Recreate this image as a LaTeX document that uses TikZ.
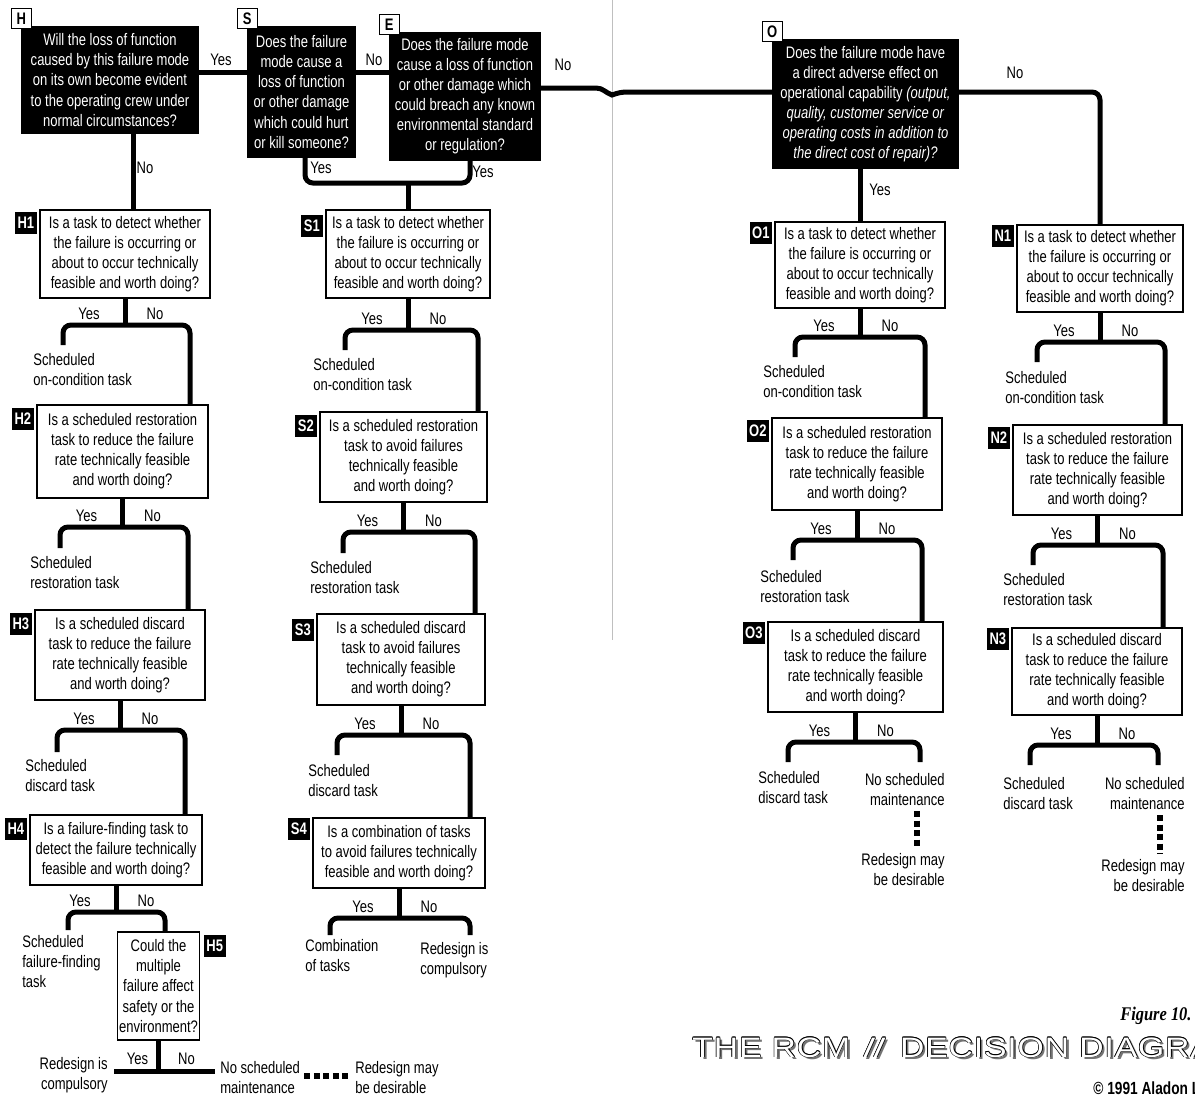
\documentclass[tikz,border=0pt]{standalone}
\usepackage{fontspec}
\setmainfont{Liberation Sans}[FakeStretch=0.78]
\newfontfamily\titlefont{Liberation Sans}[FakeStretch=1.2,LetterSpace=3]
\newfontfamily\figfont{Liberation Serif}[FakeStretch=0.85]
\usetikzlibrary{positioning,calc}
\newcommand\qsize{\fontsize{9.5}{11.4}\selectfont}
\newcommand\rcmtitle{THE RCM {\addfontfeatures{FakeSlant=0.45}II}\hspace{0.35em} DECISION DIAGRAM}
\tikzset{
  % vragen
  qbox/.style={draw=black,fill=white,line width=0.85pt,align=center,
               inner sep=1pt,font=\qsize},
  qdark/.style={qbox,fill=black,text=white},
  tagw/.style={draw=black,fill=white,line width=0.85pt,minimum size=4mm,
               inner sep=0pt,font=\qsize\bfseries},
  tagd/.style={fill=black,text=white,minimum size=4.4mm,inner sep=0pt,
               font=\qsize\bfseries},
  % lijnen
  link/.style={line width=1mm,rounded corners=1.6mm},
  dots/.style={line width=1.2mm,dash pattern=on 1.2mm off 0.7mm},
  gutter/.style={draw=black!25,line width=0.4pt},
  % teksten
  yn/.style={font=\qsize,inner sep=0pt},
  act/.style={font=\qsize,align=left,anchor=north west,inner sep=0pt},
  actr/.style={act,align=right,anchor=north east},
  ttl/.style={font=\titlefont\fontsize{16}{18}\selectfont,inner sep=0pt,anchor=base west},
}

\begin{document}
\begin{tikzpicture}[x=0.2mm,y=-0.2mm]
  \useasboundingbox (0,0) rectangle (1195,1099);
  \draw[gutter] (612,0) -- (612,640);

  % first questions
  \node[qdark,minimum width=35.2mm,minimum height=21.2mm] (H) at (110,80)
    {Will the loss of function\\caused by this failure mode\\on its own become evident\\to the operating crew under\\normal circumstances?};
  \node[qdark,minimum width=21.4mm,minimum height=26mm] (S) at (301.5,92)
    {Does the failure\\mode cause a\\loss of function\\or other damage\\which could hurt\\or kill someone?};
  \node[qdark,minimum width=30mm,minimum height=25.4mm] (E) at (465,96.5)
    {Does the failure mode\\cause a loss of function\\or other damage which\\could breach any known\\environmental standard\\or regulation?};
  \node[qdark,minimum width=37mm,minimum height=25.6mm] (O) at (865.5,104)
    {Does the failure mode have\\a direct adverse effect on\\operational capability \textit{(output,}\\\textit{quality, customer service or}\\\textit{operating costs in addition to}\\\textit{the direct cost of repair)?}};
  \node[tagw] (Ht) at ([shift={(0,-8)}]H.north west) {H};
  \node[tagw] (St) at ([shift={(0,-8)}]S.north west) {S};
  \node[tagw] (Et) at ([shift={(0,-8)}]E.north west) {E};
  \node[tagw] (Ot) at ([shift={(0,-8)}]O.north west) {O};

  % H column
  \node[qbox,minimum width=34mm,minimum height=17.6mm] (H1) at (125,254)
    {Is a task to detect whether\\the failure is occurring or\\about to occur technically\\feasible and worth doing?};
  \node[qbox,minimum width=34.2mm,minimum height=18.6mm] (H2) at (122.5,451.5)
    {Is a scheduled restoration\\task to reduce the failure\\rate technically feasible\\and worth doing?};
  \node[qbox,minimum width=34mm,minimum height=18mm] (H3) at (120,655)
    {Is a scheduled discard\\task to reduce the failure\\rate technically feasible\\and worth doing?};
  \node[qbox,minimum width=34.4mm,minimum height=14mm] (H4) at (116,850)
    {Is a failure-finding task to\\detect the failure technically\\feasible and worth doing?};
  \node[qbox,minimum width=15.4mm,minimum height=21.6mm] (H5) at (158.5,986)
    {Could the\\multiple\\failure affect\\safety or the\\environment?};
  \node[tagd,anchor=north east] (H1t) at ([shift={(-2,2)}]H1.north west) {H1};
  \node[tagd,anchor=north east] (H2t) at ([shift={(-2,3)}]H2.north west) {H2};
  \node[tagd,anchor=north east] (H3t) at ([shift={(-2,3)}]H3.north west) {H3};
  \node[tagd,anchor=north east] (H4t) at ([shift={(-2,3)}]H4.north west) {H4};
  \node[tagd,anchor=north west] (H5t) at ([shift={(3,3)}]H5.north east) {H5};
  \node[act] (h1a) at (33,353) {Scheduled\\on-condition task};
  \node[act] (h2a) at (30,556) {Scheduled\\restoration task};
  \node[act] (h3a) at (25,759) {Scheduled\\discard task};
  \node[act] (h4a) at (22,935) {Scheduled\\failure-finding\\task};
  \node[actr] (h5a) at (108,1057) {Redesign is\\compulsory};
  \node[act] (h5b) at (220,1061) {No scheduled\\maintenance};
  \node[act] (h5c) at (355,1061) {Redesign may\\be desirable};

  % S column
  \node[qbox,minimum width=32.8mm,minimum height=17.6mm] (S1) at (408,254)
    {Is a task to detect whether\\the failure is occurring or\\about to occur technically\\feasible and worth doing?};
  \node[qbox,minimum width=33.4mm,minimum height=18mm] (S2) at (403.5,457)
    {Is a scheduled restoration\\task to avoid failures\\technically feasible\\and worth doing?};
  \node[qbox,minimum width=33.6mm,minimum height=18.2mm] (S3) at (401,659.5)
    {Is a scheduled discard\\task to avoid failures\\technically feasible\\and worth doing?};
  \node[qbox,minimum width=34.4mm,minimum height=14mm] (S4) at (399,853)
    {Is a combination of tasks\\to avoid failures technically\\feasible and worth doing?};
  \node[tagd,anchor=north east] (S1t) at ([shift={(-2,5)}]S1.north west) {S1};
  \node[tagd,anchor=north east] (S2t) at ([shift={(-2,3)}]S2.north west) {S2};
  \node[tagd,anchor=north east] (S3t) at ([shift={(-2,5)}]S3.north west) {S3};
  \node[tagd,anchor=north east] (S4t) at ([shift={(-2,0)}]S4.north west) {S4};
  \node[act] (s1a) at (313,358) {Scheduled\\on-condition task};
  \node[act] (s2a) at (310,561) {Scheduled\\restoration task};
  \node[act] (s3a) at (308,764) {Scheduled\\discard task};
  \node[act] (s4a) at (305,939) {Combination\\of tasks};
  \node[act] (s4b) at (420,942) {Redesign is\\compulsory};

  % O column
  \node[qbox,minimum width=34mm,minimum height=17.2mm] (O1) at (860,265)
    {Is a task to detect whether\\the failure is occurring or\\about to occur technically\\feasible and worth doing?};
  \node[qbox,minimum width=34mm,minimum height=18.4mm] (O2) at (857,464)
    {Is a scheduled restoration\\task to reduce the failure\\rate technically feasible\\and worth doing?};
  \node[qbox,minimum width=35mm,minimum height=18mm] (O3) at (855.5,667)
    {Is a scheduled discard\\task to reduce the failure\\rate technically feasible\\and worth doing?};
  \node[tagd,anchor=north east] (O1t) at ([shift={(-2,0)}]O1.north west) {O1};
  \node[tagd,anchor=north east] (O2t) at ([shift={(-2,2)}]O2.north west) {O2};
  \node[tagd,anchor=north east] (O3t) at ([shift={(-2,0)}]O3.north west) {O3};
  \node[act] (o1a) at (763,365) {Scheduled\\on-condition task};
  \node[act] (o2a) at (760,570) {Scheduled\\restoration task};
  \node[act] (o3a) at (758,771) {Scheduled\\discard task};
  \node[actr] (o3b) at (945,773) {No scheduled\\maintenance};
  \node[actr] (o3c) at (945,853) {Redesign may\\be desirable};

  % N column
  \node[qbox,minimum width=33.2mm,minimum height=17.4mm] (N1) at (1100,268.5)
    {Is a task to detect whether\\the failure is occurring or\\about to occur technically\\feasible and worth doing?};
  \node[qbox,minimum width=33.8mm,minimum height=18mm] (N2) at (1097.5,470)
    {Is a scheduled restoration\\task to reduce the failure\\rate technically feasible\\and worth doing?};
  \node[qbox,minimum width=34mm,minimum height=17.4mm] (N3) at (1097,671.5)
    {Is a scheduled discard\\task to reduce the failure\\rate technically feasible\\and worth doing?};
  \node[tagd,anchor=north east] (N1t) at ([shift={(-2,0)}]N1.north west) {N1};
  \node[tagd,anchor=north east] (N2t) at ([shift={(-2,2)}]N2.north west) {N2};
  \node[tagd,anchor=north east] (N3t) at ([shift={(-2,0)}]N3.north west) {N3};
  \node[act] (n1a) at (1005,371) {Scheduled\\on-condition task};
  \node[act] (n2a) at (1003,573) {Scheduled\\restoration task};
  \node[act] (n3a) at (1003,777) {Scheduled\\discard task};
  \node[actr] (n3b) at (1185,777) {No scheduled\\maintenance};
  \node[actr] (n3c) at (1185,859) {Redesign may\\be desirable};

  % top links
  \draw[link] (H.east |- 0,72) -- (S.west |- 0,72);
  \draw[link] (S.east |- 0,72) -- (E.west |- 0,72);
  \draw[link,rounded corners=0pt] (E.east |- 0,88) -- (596,88) to[out=0,in=160] (612,95)
    to[out=20,in=180] (628,92) -- (O.west |- 0,92);
  \draw[link] (O.east |- 0,92) -| (N1.north);
  \draw[link] (H.south -| 133,0) -- (H1.north -| 133,0);
  \coordinate (sj) at (S1.north |- 0,183);
  \draw[link] (S.south -| 305,0) |- (sj) -| (E.south -| 470,0);
  \draw[link] (sj) -- (S1);
  \draw[link] (O.south -| O1.north) -- (O1);
  \node[yn] (hyes) at (221,60) {Yes};
  \node[yn] (sno) at (374,60) {No};
  \node[yn] (eno) at (563,65) {No};
  \node[yn] (hno) at (145,168) {No};
  \node[yn] (syes) at (321,168) {Yes};
  \node[yn] (eyes) at (483,172) {Yes};
  \node[yn] (oyes) at (880,190) {Yes};
  \node[yn] (ono) at (1015,73) {No};

  % branches H
  \coordinate (h1j) at (H1.south |- 0,325);
  \coordinate (h1y) at (63,345);
  \draw[link] (H1) -- (h1j);
  \draw[link] (h1y) |- (h1j) -| (H2.north -| 190,0);
  \coordinate (h2j) at (H2.south |- 0,527);
  \coordinate (h2y) at (60,548);
  \draw[link] (H2) -- (h2j);
  \draw[link] (h2y) |- (h2j) -| (H3.north -| 188,0);
  \coordinate (h3j) at (H3.south |- 0,730);
  \coordinate (h3y) at (57,752);
  \draw[link] (H3) -- (h3j);
  \draw[link] (h3y) |- (h3j) -| (H4.north -| 185,0);
  \coordinate (h4j) at (H4.south |- 0,912);
  \coordinate (h4y) at (68,930);
  \draw[link] (H4) -- (h4j);
  \draw[link] (h4y) |- (h4j) -| (H5.north -| 165,0);
  \coordinate (h5j) at (H5.south |- 0,1071);
  \draw[link] (H5) -- (h5j);
  \draw[link,shorten <=1.2mm,shorten >=1mm] (h5a.east |- h5j) -- (h5b.west |- h5j);
  \node[yn] (h5yes) at ([shift={(-21,-12)}]h5j) {Yes};
  \node[yn] (h5no) at ([shift={(28,-12)}]h5j) {No};
  \draw[dots,shorten <=0.8mm,shorten >=1.4mm] (h5b.east |- 0,1076) -- (h5c.west |- 0,1076);

  % branches S
  \coordinate (s1j) at (S1.south |- 0,330);
  \coordinate (s1y) at (345,350);
  \draw[link] (S1) -- (s1j);
  \draw[link] (s1y) |- (s1j) -| (S2.north -| 478,0);
  \coordinate (s2j) at (S2.south |- 0,532);
  \coordinate (s2y) at (343,553);
  \draw[link] (S2) -- (s2j);
  \draw[link] (s2y) |- (s2j) -| (S3.north -| 475,0);
  \coordinate (s3j) at (S3.south |- 0,735);
  \coordinate (s3y) at (337,755);
  \draw[link] (S3) -- (s3j);
  \draw[link] (s3y) |- (s3j) -| (S4.north -| 470,0);
  \coordinate (s4j) at (S4.south |- 0,918);
  \coordinate (s4y) at (330,935);
  \coordinate (s4n) at (470,935);
  \draw[link] (S4) -- (s4j);
  \draw[link] (s4y) |- (s4j) -| (s4n);

  % branches O
  \coordinate (o1j) at (O1.south |- 0,337);
  \coordinate (o1y) at (795,357);
  \draw[link] (O1) -- (o1j);
  \draw[link] (o1y) |- (o1j) -| (O2.north -| 925,0);
  \coordinate (o2j) at (O2.south |- 0,540);
  \coordinate (o2y) at (793,560);
  \draw[link] (O2) -- (o2j);
  \draw[link] (o2y) |- (o2j) -| (O3.north -| 922,0);
  \coordinate (o3j) at (O3.south |- 0,742);
  \coordinate (o3y) at (788,762);
  \coordinate (o3n) at (920,762);
  \draw[link] (O3) -- (o3j);
  \draw[link] (o3y) |- (o3j) -| (o3n);
  \draw[dots,shorten <=1mm,shorten >=1mm] (o3b.south -| 917,0) -- (o3c.north -| 917,0);

  % branches N
  \coordinate (n1j) at (N1.south |- 0,342);
  \coordinate (n1y) at (1037,362);
  \draw[link] (N1) -- (n1j);
  \draw[link] (n1y) |- (n1j) -| (N2.north -| 1165,0);
  \coordinate (n2j) at (N2.south |- 0,545);
  \coordinate (n2y) at (1033,565);
  \draw[link] (N2) -- (n2j);
  \draw[link] (n2y) |- (n2j) -| (N3.north -| 1163,0);
  \coordinate (n3j) at (N3.south |- 0,745);
  \coordinate (n3y) at (1030,765);
  \coordinate (n3n) at (1158,765);
  \draw[link] (N3) -- (n3j);
  \draw[link] (n3y) |- (n3j) -| (n3n);
  \draw[dots,shorten <=1mm,shorten >=1mm] (n3b.south -| 1160,0) -- (n3c.north -| 1160,0);

  % Yes/No on every branch
  \foreach \j in {h1j,h2j,h3j,h4j,s1j,s2j,s3j,s4j,o1j,o2j,o3j,n1j,n2j,n3j} {
    \node[yn] (\j-yes) at ([shift={(-36,-11)}]\j) {Yes};
    \node[yn] (\j-no) at ([shift={(30,-11)}]\j) {No};
  }

  % title
  \node[anchor=base west,inner sep=0pt,font=\figfont\bfseries\itshape\fontsize{11}{13}\selectfont]
    (fig) at (1120,1020) {Figure 10.};
  \coordinate (ttl) at (692,1057);
  \node[ttl,text=black!55] (ttlsh) at ([shift={(2.5,2.5)}]ttl) {\rcmtitle};
  \foreach \a [count=\i] in {0,45,...,315}
    \node[ttl] (ttl\i) at ([shift={(\a:0.35pt)}]ttl) {\rcmtitle};
  \node[ttl,text=white] (ttlw) at (ttl) {\rcmtitle};
  \node[anchor=base west,inner sep=0pt,font=\fontsize{10}{12}\selectfont\bfseries]
    (copy) at (1093,1094) {© 1991 Aladon Ltd};
\end{tikzpicture}
\end{document}
